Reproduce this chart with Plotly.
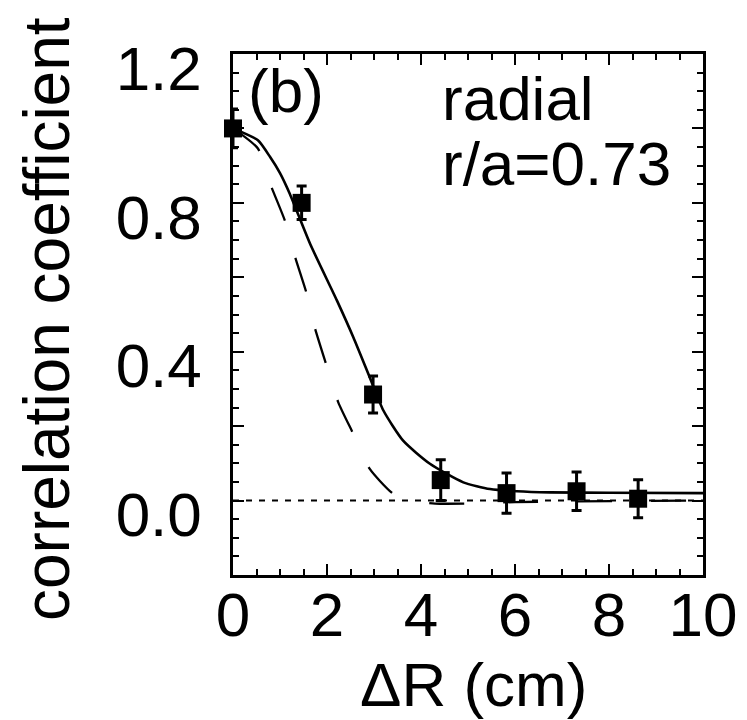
import plotly.graph_objects as go

# Measured radial correlation coefficient vs. probe separation
dr = [0.0, 1.46, 2.98, 4.42, 5.82, 7.31, 8.62]
corr = [1.0, 0.80, 0.285, 0.055, 0.02, 0.025, 0.005]
corr_err = [0.052, 0.045, 0.05, 0.055, 0.054, 0.052, 0.051]

# Fit through the measurements (solid)
fit_x = [0.0, 0.53, 0.79, 1.0, 1.21, 1.64, 2.21, 2.56, 2.91, 3.2, 3.62, 4.19, 4.9, 5.47, 6.04, 6.74, 8.0, 10.0]
fit_y = [1.0, 0.968, 0.923, 0.88, 0.824, 0.69, 0.538, 0.439, 0.331, 0.242, 0.161, 0.099, 0.049, 0.031, 0.025, 0.022, 0.021, 0.02]

# Comparison curve (long dashes)
cmp_x = [0.0, 0.53, 0.82, 1.11, 1.32, 1.57, 1.74, 1.98, 2.24, 2.56, 2.91, 3.41, 3.8, 4.3, 5.0, 6.0, 10.0]
cmp_y = [1.0, 0.946, 0.842, 0.75, 0.655, 0.555, 0.465, 0.367, 0.264, 0.179, 0.085, 0.018, 0.0, -0.008, -0.008, -0.004, 0.0]

# Zero reference (dotted)
zero_x = [0.0, 10.0]
zero_y = [0.0, 0.0]

x_ticks = [0, 2, 4, 6, 8, 10]
y_ticks = [0.0, 0.2, 0.4, 0.6, 0.8, 1.0, 1.2]
y_ticktext = ["0.0", "", "0.4", "", "0.8", "", "1.2"]

FONT = "Liberation Sans, Arial, Helvetica, sans-serif"
W, H = 747, 720
L, R, T, B = 233, 44, 54, 145


def px_x(p):
    return (p - L) / (W - L - R)


def px_y(p):
    return (H - B - p) / (H - T - B)


fig = go.Figure()

fig.add_trace(go.Scatter(
    x=zero_x, y=zero_y, mode="lines",
    line=dict(color="black", width=2, dash="6px,7px"),
    hoverinfo="skip", showlegend=False,
))
fig.add_trace(go.Scatter(
    x=cmp_x, y=cmp_y, mode="lines",
    line=dict(color="black", width=2.3, dash="35px,39px", shape="spline", smoothing=0.6),
    showlegend=False,
))
fig.add_trace(go.Scatter(
    x=fit_x, y=fit_y, mode="lines",
    line=dict(color="black", width=2.6, shape="spline", smoothing=0.6),
    showlegend=False,
))
fig.add_trace(go.Scatter(
    x=dr, y=corr, mode="markers",
    marker=dict(symbol="square", size=18, color="black"),
    error_y=dict(type="data", array=corr_err, visible=True,
                 color="black", thickness=3, width=5),
    cliponaxis=False, showlegend=False,
))

axis_common = dict(
    showline=True, linecolor="black", linewidth=2.5, mirror="ticks",
    ticks="inside", ticklen=11, tickwidth=2, tickcolor="black",
    showgrid=False, zeroline=False,
    tickfont=dict(family=FONT, size=62, color="black"),
)

fig.update_xaxes(
    range=[0, 10], tickmode="array", tickvals=x_ticks,
    ticktext=[str(v) for v in x_ticks],
    minor=dict(dtick=0.5, ticks="inside", ticklen=6, tickwidth=1.8, tickcolor="black", showgrid=False),
    ticklabelstandoff=-16,
    **axis_common,
)
fig.update_yaxes(
    range=[-0.2, 1.2], tickmode="array", tickvals=y_ticks, ticktext=y_ticktext,
    minor=dict(dtick=0.05, ticks="inside", ticklen=6, tickwidth=1.8, tickcolor="black", showgrid=False),
    ticklabelstandoff=16, ticklabelshift=14,
    **axis_common,
)

# Axis titles
fig.add_annotation(text="correlation coefficient", xref="paper", yref="paper",
                   x=px_x(47), y=px_y(319), xanchor="center", yanchor="middle",
                   textangle=-90, showarrow=False,
                   font=dict(family=FONT, size=64, color="black"))
fig.add_annotation(text="ΔR (cm)", xref="paper", yref="paper",
                   x=px_x(473), y=px_y(684), xanchor="center", yanchor="middle",
                   showarrow=False, font=dict(family=FONT, size=62, color="black"))

# In-panel labels
text_font = dict(family=FONT, size=62, color="black")
fig.add_annotation(text="(b)", xref="paper", yref="paper", x=px_x(246), y=px_y(90),
                   xanchor="left", yanchor="middle", showarrow=False, font=text_font)
fig.add_annotation(text="radial", xref="paper", yref="paper", x=px_x(440), y=px_y(98),
                   xanchor="left", yanchor="middle", showarrow=False, font=text_font)
fig.add_annotation(text="r/a=0.73", xref="paper", yref="paper", x=px_x(440), y=px_y(163),
                   xanchor="left", yanchor="middle", showarrow=False, font=text_font)

fig.update_layout(
    width=W, height=H,
    margin=dict(l=L, r=R, t=T, b=B, autoexpand=False),
    paper_bgcolor="white", plot_bgcolor="white",
    font=dict(family=FONT, color="black"),
)

fig.write_html("out.html")
